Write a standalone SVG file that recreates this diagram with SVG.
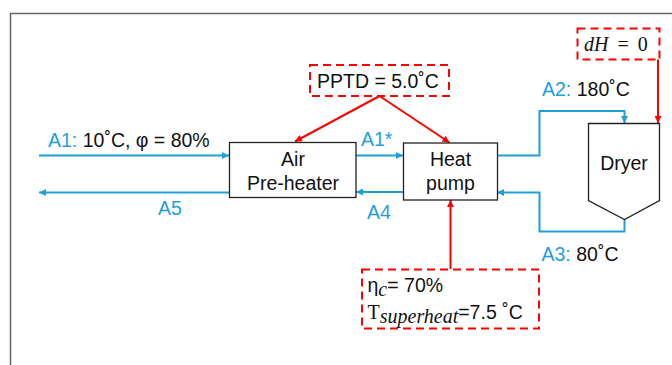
<svg xmlns="http://www.w3.org/2000/svg" width="672" height="365" viewBox="0 0 672 365">
<defs>
<style>
.t{font-family:"Liberation Sans",Arial,sans-serif;font-size:19.5px;fill:#111}
.b{fill:#1E9FD9}
.m{font-family:"Liberation Serif","Times New Roman",serif;font-size:20px;fill:#111}
.box{fill:#fff;stroke:#222;stroke-width:1.3}
.dash{fill:#fff;stroke:#F00;stroke-width:2;stroke-dasharray:8 5}
.bl{fill:none;stroke:#1E9FD9;stroke-width:2}
.rd{fill:none;stroke:#F00;stroke-width:2}
</style>
<marker id="ab" viewBox="0 0 10 10" refX="10" refY="5" markerWidth="8" markerHeight="7" markerUnits="userSpaceOnUse" orient="auto"><path d="M0,0L10,5L0,10z" fill="#1E9FD9"/></marker>
<marker id="ar" viewBox="0 0 10 10" refX="10" refY="5" markerWidth="9" markerHeight="7" markerUnits="userSpaceOnUse" orient="auto"><path d="M0,0L10,5L0,10z" fill="#F00"/></marker>
</defs>
<rect x="0" y="0" width="672" height="365" fill="#fff"/>
<rect x="10.5" y="13.5" width="700" height="400" fill="none" stroke="#666" stroke-width="1.5"/>

<g id="connectors">
<path class="bl" d="M39,155.5H229" marker-end="url(#ab)"/>
<path class="bl" d="M229,192.5H39" marker-end="url(#ab)"/>
<path class="bl" d="M356,155.5H403" marker-end="url(#ab)"/>
<path class="bl" d="M403,192H356" marker-end="url(#ab)"/>
<path class="bl" d="M497,155.5H539.5V111H624.5V123" marker-end="url(#ab)"/>
<path class="bl" d="M624.5,219.5V231.5H539.5V192.5H497" marker-end="url(#ab)"/>
<path class="rd" d="M379.5,96L295,141.5" marker-end="url(#ar)"/>
<path class="rd" d="M379.5,96L449.5,142.5" marker-end="url(#ar)"/>
<path class="rd" d="M658,59V123" marker-end="url(#ar)"/>
<path class="rd" d="M450.5,269V200" marker-end="url(#ar)"/>
</g>

<g id="air-preheater">
<rect class="box" x="229.5" y="142.5" width="126.5" height="55"/>
<text class="t" x="293" y="166" text-anchor="middle">Air</text>
<text class="t" x="293" y="189.5" text-anchor="middle">Pre-heater</text>
</g>

<g id="heat-pump">
<rect class="box" x="403.5" y="143" width="94" height="57"/>
<text class="t" x="450.5" y="166" text-anchor="middle">Heat</text>
<text class="t" x="450.5" y="190" text-anchor="middle">pump</text>
</g>

<g id="dryer">
<path class="box" d="M588.5,123.5H659.5V200.5L624.5,219.5L588.5,200.5Z"/>
<text class="t" x="624" y="169.5" text-anchor="middle">Dryer</text>
</g>

<g id="pptd">
<rect class="dash" x="310" y="65" width="139" height="31"/>
<text class="t" x="317" y="87.5">PPTD = 5.0˚C</text>
</g>

<g id="dh">
<rect class="dash" x="577.5" y="28.5" width="82" height="31"/>
<text class="m" x="584" y="51" font-size="22" word-spacing="4"><tspan font-style="italic">dH</tspan> = 0</text>
</g>

<g id="hp-params">
<rect class="dash" x="362" y="269.5" width="177" height="59"/>
<text class="t" x="367.5" y="292">η<tspan class="m" font-style="italic" font-size="14" dy="4">c</tspan><tspan dy="-4">= 70%</tspan></text>
<text class="t" x="367.5" y="318.5"><tspan class="m" font-size="20">T</tspan><tspan class="m" font-style="italic" font-size="15" dy="4">superheat</tspan><tspan dy="-4">=7.5 ˚C</tspan></text>
</g>

<g id="labels">
<text class="t" x="48" y="146.5"><tspan class="b">A1:</tspan> 10˚C, φ = 80%</text>
<text class="t b" x="158" y="214.5">A5</text>
<text class="t b" x="361" y="145.5">A1*</text>
<text class="t b" x="367" y="219">A4</text>
<text class="t" x="542" y="95.5"><tspan class="b">A2:</tspan> 180˚C</text>
<text class="t" x="541.5" y="261"><tspan class="b">A3:</tspan> 80˚C</text>
</g>
</svg>
